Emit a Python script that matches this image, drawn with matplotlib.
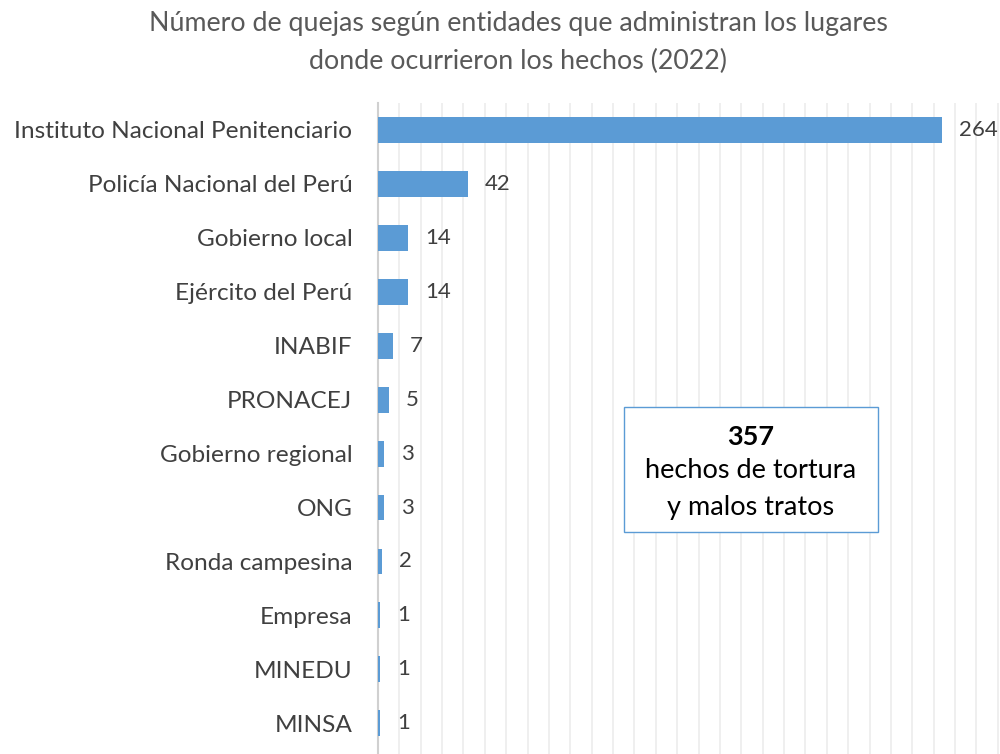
import matplotlib.pyplot as plt
import numpy as np

plt.rcParams['font.family'] = ['Lato', 'DejaVu Sans']

entidades = ['Instituto Nacional Penitenciario', 'Policía Nacional del Perú', 'Gobierno local',
             'Ejército del Perú', 'INABIF', 'PRONACEJ', 'Gobierno regional', 'ONG',
             'Ronda campesina', 'Empresa', 'MINEDU', 'MINSA']
quejas = [264, 42, 14, 14, 7, 5, 3, 3, 2, 1, 1, 1]
total = 357

azul = '#5B9BD5'
gris = '#404040'

fig = plt.figure(figsize=(10, 7.54), dpi=100)
ax = fig.add_axes([0.378, 0.0, 0.622, (754 - 103) / 754])

y = np.arange(len(entidades))
ax.barh(y, quejas, height=0.48, color=azul, zorder=3)

for i, v in enumerate(quejas):
    ax.text(v + 8, i, str(v), va='center', ha='left', fontsize=16, color=gris)

ax.set_yticks(y)
ax.set_yticklabels(entidades, fontsize=17.6, color=gris)
ax.tick_params(axis='y', length=0, pad=18.5)
ax.tick_params(axis='x', length=0, labelbottom=False)
ax.set_xticks(np.arange(0, 300, 10))
ax.set_xlim(0, 291)
ax.set_ylim(11.57, -0.5)
ax.grid(axis='x', color='#ECECEC', linewidth=1.2, zorder=0)
ax.set_axisbelow(True)
for s in ['top', 'right', 'bottom']:
    ax.spines[s].set_visible(False)
ax.spines['left'].set_color('#D0D0D0')
ax.spines['left'].set_linewidth(1.5)

fig.text(0.518, 1 - 24 / 754, 'Número de quejas según entidades que administran los lugares',
         ha='center', va='center', fontsize=19.3, color='#595959')
fig.text(0.518, 1 - 61 / 754, 'donde ocurrieron los hechos (2022)',
         ha='center', va='center', fontsize=19.3, color='#595959')

# recuadro con el total
caja = plt.Rectangle((0.624, 1 - 532 / 754), 0.254, 125 / 754, transform=fig.transFigure,
                     facecolor='white', edgecolor=azul, linewidth=1.0, zorder=5)
fig.patches.append(caja)
fig.text(0.751, 1 - 437 / 754, str(total), ha='center', va='center', fontsize=19.5,
         fontweight='bold', color='black', zorder=6)
fig.text(0.751, 1 - 471 / 754, 'hechos de tortura', ha='center', va='center',
         fontsize=19.5, color='black', zorder=6)
fig.text(0.751, 1 - 507 / 754, 'y malos tratos', ha='center', va='center',
         fontsize=19.5, color='black', zorder=6)

plt.savefig('out.png', dpi=100)
